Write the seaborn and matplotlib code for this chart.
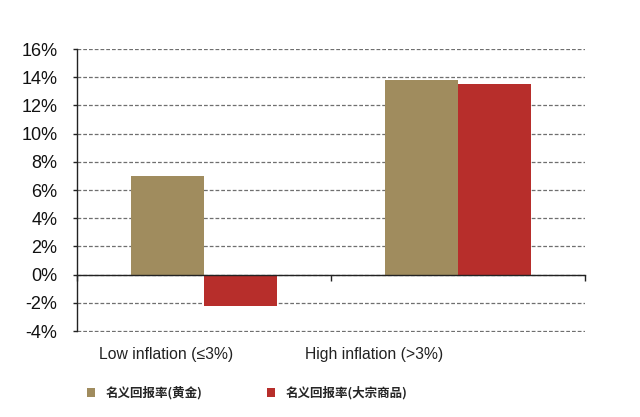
import pandas as pd
import matplotlib.pyplot as plt
import matplotlib.transforms as mtransforms
import seaborn as sns
from matplotlib.ticker import FuncFormatter
from matplotlib.patches import Patch

# chart values (percent)
categories = ['Low inflation (≤3%)', 'High inflation (>3%)']
series = ['名义回报率(黄金)', '名义回报率(大宗商品)']
gold = [7.0, 13.8]
commodities = [-2.25, 13.5]
colors = ['#A08C5E', '#B72E2B']

df = pd.DataFrame({
    'Category': categories * 2,
    'Series': [series[0]] * 2 + [series[1]] * 2,
    'Return': gold + commodities,
})

sns.set_style('white')
plt.rcParams['font.family'] = ['Liberation Sans', 'DejaVu Sans']

fig = plt.figure(figsize=(6.4, 4.17), dpi=100)
ax = fig.add_axes([77 / 640, 1 - 332 / 417, 508 / 640, 283 / 417])

sns.barplot(data=df, x='Category', y='Return', hue='Series', palette=colors,
            width=0.575, saturation=1, linewidth=0, ax=ax, legend=False, zorder=3)

ax.set_ylim(-4.07, 16)
ax.set_xlim(-0.5, 1.5)
ax.set_yticks(range(-4, 17, 2))
ax.yaxis.set_major_formatter(FuncFormatter(lambda v, p: f'{int(v)}%'))
ax.grid(axis='y', color='#6f6f6f', linestyle=(0, (3, 1.6)), linewidth=0.9, zorder=0)
ax.grid(axis='x', visible=False)
ax.set_xlabel('')
ax.set_ylabel('')

for s in ['top', 'right']:
    ax.spines[s].set_visible(False)
ax.spines['left'].set_color('#222222')
ax.spines['left'].set_linewidth(1.0)
ax.spines['left'].set_bounds(-4, 16)
ax.spines['bottom'].set_position(('data', 0))
ax.spines['bottom'].set_color('#222222')
ax.spines['bottom'].set_linewidth(1.0)
ax.spines['bottom'].set_zorder(4)

ax.tick_params(axis='y', left=True, length=3, width=1, color='#222222',
               labelsize=13, pad=11, labelcolor='#111111')
ax.set_xticks([-0.5, 0.5, 1.5])
ax.set_xticklabels([])
ax.tick_params(axis='x', bottom=True, length=4, width=1, color='#222222')

# category labels sit below the plot area
trans = mtransforms.blended_transform_factory(ax.transAxes, fig.transFigure)
ax.text(0.175, 1 - 355 / 417, categories[0], transform=trans, ha='center',
        va='center', fontsize=11.3, color='#222222')
ax.text(0.585, 1 - 355 / 417, categories[1], transform=trans, ha='center',
        va='center', fontsize=11.3, color='#222222')

handles = [Patch(facecolor=c, edgecolor='none') for c in colors]
leg = fig.legend(handles, series, loc='center left', bbox_to_anchor=(76 / 640, 1 - 393 / 417),
                 ncol=2, frameon=False, handlelength=0.65, handleheight=0.65,
                 handletextpad=0.8, columnspacing=5.2,
                 prop={'family': ['Noto Sans CJK SC', 'DejaVu Sans'], 'weight': 'bold', 'size': 9})

fig.savefig('out.png', dpi=100)
